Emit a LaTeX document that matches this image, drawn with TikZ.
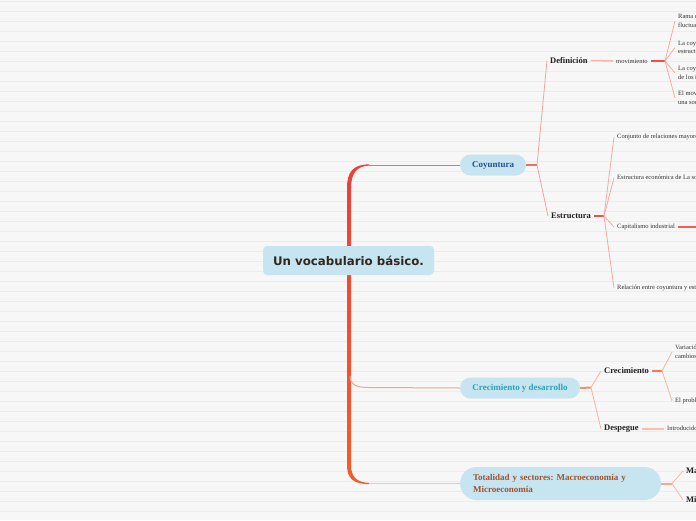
\documentclass[tikz,border=0pt]{standalone}
\usepackage{fontspec}
\setmainfont{Liberation Serif}
\newfontfamily\headfont{DejaVu Sans}
\frenchspacing
\definecolor{bgC}{HTML}{F7F7F7}
\definecolor{stripeC}{HTML}{ECECEC}
\definecolor{nodeC}{HTML}{C6E5F0}
\definecolor{rootText}{HTML}{33261E}
\definecolor{coyText}{HTML}{2A4D8F}
\definecolor{cydText}{HTML}{2AA3B3}
\definecolor{totText}{HTML}{A0522D}
\definecolor{trunkTop}{HTML}{E8433B}
\definecolor{trunkMid}{HTML}{EE5034}
\definecolor{trunkBot}{HTML}{F25C28}
\definecolor{coyLine}{HTML}{F27064}
\definecolor{coyStub}{HTML}{F26D62}
\definecolor{coyFan}{HTML}{F5A29B}
\definecolor{defLine}{HTML}{F8B4AE}
\definecolor{redStub}{HTML}{F0504A}
\definecolor{redFan}{HTML}{F7A8A2}
\definecolor{capLine}{HTML}{F06058}
\definecolor{cydLine}{HTML}{F6A488}
\definecolor{cydStub}{HTML}{F6906C}
\definecolor{cydFan}{HTML}{F7B496}
\definecolor{crecStub}{HTML}{F47A50}
\definecolor{crecFan}{HTML}{F8B898}
\definecolor{despLine}{HTML}{F8C0A8}
\definecolor{totLine}{HTML}{F6C4B4}
\definecolor{totStub}{HTML}{F7A890}
\definecolor{totFan}{HTML}{F8B8A8}
\tikzset{
  rootbox/.style={fill=nodeC, rounded corners=4pt, minimum width=171pt, minimum height=29pt, inner sep=0pt,
    text=rootText, font=\headfont\bfseries\fontsize{11.8}{13}\selectfont},
  mainbox/.style={fill=nodeC, rounded corners=10.5pt, minimum height=21pt, inner sep=0pt,
    font=\bfseries\fontsize{9}{12}\selectfont},
  sublabel/.style={anchor=west, inner xsep=3pt, inner ysep=1pt, text=black!88,
    font=\bfseries\fontsize{8.5}{10}\selectfont},
  itemlabel/.style={anchor=west, inner xsep=3pt, inner ysep=1pt, align=left, text=black!80,
    font=\fontsize{6.5}{8.5}\selectfont},
  stub/.style={line width=2pt},
  fan/.style={line width=0.8pt},
}
\begin{document}
\begin{tikzpicture}[x=1pt,y=-1pt]
\useasboundingbox (0,0) rectangle (696,520);
\clip (0,0) rectangle (696,520);
\fill[bgC] (0,0) rectangle (696,520);
\foreach \yy in {1,11,...,511} \draw[stripeC, line width=0.7pt] (0,\yy) -- (696,\yy);

% trunk
\shade[top color=trunkTop, bottom color=trunkBot, middle color=trunkMid] (347,186) rectangle (351,467);
\fill[trunkTop] (347,188) .. controls (347,172) and (353,164.4) .. (369,164.4) -- (369,165.6) .. controls (357,166) and (351,173) .. (351,188) -- cycle;
\fill[trunkBot] (347,465) .. controls (347,478) and (353,484.1) .. (369,484.1) -- (369,482.9) .. controls (357,482.5) and (351,477) .. (351,465) -- cycle;

% nodes
\node[rootbox] (root) at (348.5,260.5) {Un vocabulario básico.};
\node[mainbox, text=coyText, minimum width=66pt] (coy) at (493,165) {Coyuntura};
\node[mainbox, text=cydText, minimum width=120pt] (cyd) at (520,388) {Crecimiento y desarrollo};
\node[mainbox, text=totText, rounded corners=16.5pt, minimum height=33pt, inner xsep=13pt, text width=175pt, align=left] (tot) at (560.5,483.5) {Totalidad y sectores: Macroeconomía y\\Microeconomía};

\node[sublabel] (def) at (547,60.5) {Definición};
\node[itemlabel] (mov) at (613,61) {movimiento};
\node[itemlabel] (r1) at (675,21) {Rama de la economía que estudia las\\fluctuaciones económicas};
\node[itemlabel] (r2) at (675,47.5) {La coyuntura como parte de la\\estructura económica};
\node[itemlabel] (r3) at (675,73) {La coyuntura como movimiento\\de los indicadores};
\node[itemlabel] (r4) at (675,98) {El movimiento económico de\\una sociedad};

\node[sublabel] (est) at (548,216) {Estructura};
\node[itemlabel] (s1) at (614,137) {Conjunto de relaciones mayores y estables};
\node[itemlabel] (s2) at (614,177.5) {Estructura económica de La sociedad};
\node[itemlabel] (s3) at (614,227) {Capitalismo industrial};
\node[itemlabel] (s4) at (614,288) {Relación entre coyuntura y estructura};

\node[sublabel] (crec) at (601,371) {Crecimiento};
\node[itemlabel] (v1) at (672,352) {Variación del producto y\\cambios estructurales};
\node[itemlabel] (v2) at (672,401) {El problema del desarrollo};
\node[sublabel] (desp) at (601,429) {Despegue};
\node[itemlabel] (intro) at (664,429) {Introducido por Rostow};

\node[sublabel] (ma) at (683,471) {Macroeconomía};
\node[sublabel] (mi) at (683,500) {Microeconomía};

% junction coordinates
\coordinate (kc) at (537,165);
\coordinate (km) at (665,61);
\coordinate (ke) at (604,216);
\coordinate (kcap) at (700,227);
\coordinate (kcd) at (591,387.5);
\coordinate (kcr) at (662,371);
\coordinate (kt) at (672,483.5);
\coordinate (tr1) at (369,165);
\coordinate (tr2a) at (350,376);
\coordinate (tr2) at (369,387.5);
\coordinate (tr3) at (369,483.5);

% trunk branches
\draw[coyLine, line width=1pt] (tr1) -- (coy.west);
\draw[cydLine, line width=1pt] (tr2a) .. controls (350,384) and (355,387.5) .. (tr2) -- (cyd.west);
\draw[totLine, line width=1pt] (tr3) -- (tot.west);

% Coyuntura
\draw[coyStub, stub] (coy.east) -- (kc);
\draw[coyFan, fan] (kc) -- (def.west);
\draw[coyFan, fan] (kc) -- (est.west);
\draw[defLine, line width=1.5pt] (def.east) -- (mov.west);
\draw[redStub, stub] (mov.east) -- (km);
\foreach \n in {r1,r2,r3,r4} \draw[redFan, fan] (km) -- (\n.west);
\draw[redStub, stub] (est.east) -- (ke);
\foreach \n in {s1,s2,s3,s4} \draw[redFan, fan] (ke) -- (\n.west);
\draw[capLine, line width=1.2pt] (s3.east) -- (kcap);

% Crecimiento y desarrollo
\draw[cydStub, stub] (cyd.east) -- (kcd);
\draw[cydFan, fan] (kcd) -- (crec.west);
\draw[cydFan, fan] (kcd) -- (desp.west);
\draw[crecStub, line width=1.5pt] (crec.east) -- (kcr);
\draw[crecFan, fan] (kcr) -- (v1.west);
\draw[crecFan, fan] (kcr) -- (v2.west);
\draw[despLine, line width=1.5pt] (desp.east) -- (intro.west);

% Totalidad
\draw[totStub, stub] (tot.east) -- (kt);
\draw[totFan, fan] (kt) -- (ma.west);
\draw[totFan, fan] (kt) -- (mi.west);
\end{tikzpicture}
\end{document}
